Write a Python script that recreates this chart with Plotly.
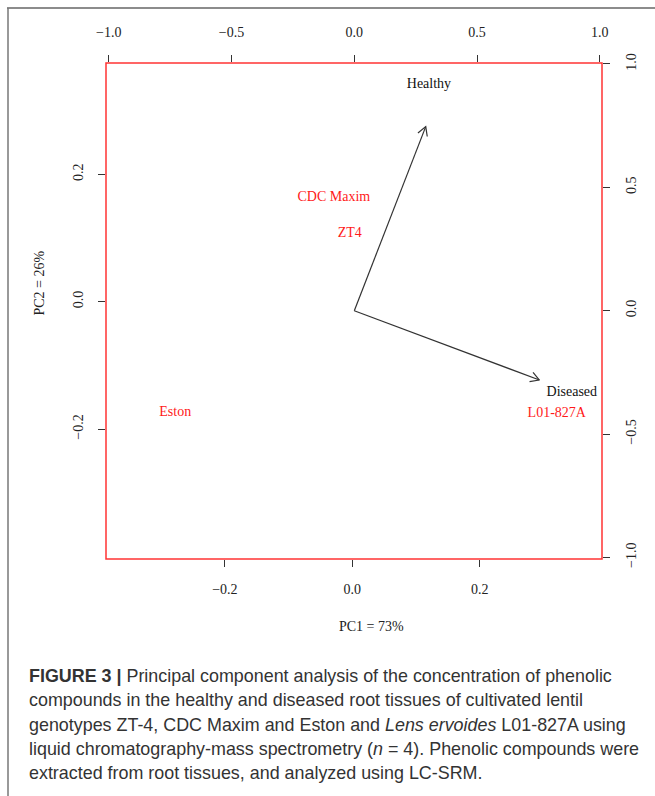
import math
import plotly.graph_objects as go

# ---------------- data ----------------
genotypes = ["CDC Maxim", "ZT4", "Eston", "L01-827A"]
pc1_scores = [-0.029, -0.004, -0.278, 0.321]
pc2_scores = [0.163, 0.107, -0.174, -0.175]

tissues = ["Healthy", "Diseased"]
arrow_pc1 = [0.291, 0.754]
arrow_pc2 = [0.746, -0.281]
label_pc1 = [0.304, 0.886]
label_pc2 = [0.918, -0.332]

score_ticks = [-0.2, 0.0, 0.2]
loading_ticks = [-1.0, -0.5, 0.0, 0.5, 1.0]

x_title = "PC1 = 73%"
y_title = "PC2 = 26%"

caption_lines = [
    "<b>FIGURE 3 |</b> Principal component analysis of the concentration of phenolic",
    "compounds in the healthy and diseased root tissues of cultivated lentil",
    "genotypes ZT-4, CDC Maxim and Eston and <i>Lens ervoides</i> L01-827A using",
    "liquid chromatography-mass spectrometry (<i>n</i> = 4). Phenolic compounds were",
    "extracted from root tissues, and analyzed using LC-SRM.",
]

# ---------------- layout geometry ----------------
W, H = 655, 796
ML, MR, MT, MB = 106, 53, 63, 237
PW = W - ML - MR
PH = H - MT - MB

xr = [-0.3867, 0.392]
yr = [-0.404, 0.3747]
x2r = [-1.0114, 1.009]
y2r = [-1.0065, 1.004]


def px_x(px):
    return (px - ML) / PW


def px_y(py):
    return (H - MB - py) / PH


def fmt(v):
    return f"{v:.1f}".replace("-", "\u2212")


serif = "Liberation Serif"
tick_col = "#222222"

fig = go.Figure()

# scores (genotypes) as red text
fig.add_trace(go.Scatter(
    x=pc1_scores, y=pc2_scores, mode="text", text=genotypes,
    textposition="middle center",
    textfont=dict(family=serif, size=14, color="#ff1a1a"),
    xaxis="x", yaxis="y", hoverinfo="skip", showlegend=False,
))

# loading arrows
kx = PW / (x2r[1] - x2r[0])
ky = PH / (y2r[1] - y2r[0])
head_len = 10.0
head_ang = math.radians(30)
ax_all, ay_all = [], []
for ax, ay in zip(arrow_pc1, arrow_pc2):
    dx, dy = ax * kx, ay * ky
    n = math.hypot(dx, dy)
    ux, uy = dx / n, dy / n
    pts = []
    for s in (1, -1):
        c, si = math.cos(s * head_ang), math.sin(s * head_ang)
        rx = ux * c - uy * si
        ry = ux * si + uy * c
        pts.append((ax - head_len * rx / kx, ay - head_len * ry / ky))
    ax_all += [0, ax, None, pts[0][0], ax, pts[1][0], None]
    ay_all += [0, ay, None, pts[0][1], ay, pts[1][1], None]

fig.add_trace(go.Scatter(
    x=ax_all, y=ay_all, mode="lines",
    line=dict(color="#333333", width=1.2),
    xaxis="x2", yaxis="y2", hoverinfo="skip", showlegend=False,
))

fig.add_trace(go.Scatter(
    x=label_pc1, y=label_pc2, mode="text", text=tissues,
    textposition="middle center",
    textfont=dict(family=serif, size=14, color="#111111"),
    xaxis="x2", yaxis="y2", hoverinfo="skip", showlegend=False,
))

axis_common = dict(
    showgrid=False, zeroline=False, showline=False,
    ticks="outside", ticklen=7, tickwidth=1, tickcolor="#333333",
    tickfont=dict(family=serif, size=14, color=tick_col),
    fixedrange=True,
)

fig.update_layout(
    width=W, height=H,
    margin=dict(l=ML, r=MR, t=MT, b=MB, pad=0),
    paper_bgcolor="white", plot_bgcolor="white",
    showlegend=False,
    xaxis=dict(range=xr, tickvals=score_ticks, ticktext=[fmt(v) for v in score_ticks],
               side="bottom", ticklabelstandoff=10, **axis_common),
    yaxis=dict(range=yr, tickvals=score_ticks, ticktext=[fmt(v) for v in score_ticks],
               side="left", tickangle=-90, ticklabelstandoff=9, **axis_common),
    xaxis2=dict(range=x2r, tickvals=loading_ticks, ticktext=[fmt(v) for v in loading_ticks],
                side="top", overlaying="x", anchor="y", ticklabelstandoff=12, **axis_common),
    yaxis2=dict(range=y2r, tickvals=loading_ticks, ticktext=[fmt(v) for v in loading_ticks],
                side="right", overlaying="y", anchor="x", tickangle=-90, ticklabelstandoff=9,
                **axis_common),
)

shapes = [
    dict(type="rect", xref="paper", yref="paper", x0=0, x1=1, y0=0, y1=1,
         line=dict(color="#ff3333", width=1.5), layer="above"),
    dict(type="line", xref="paper", yref="paper", x0=px_x(7), x1=px_x(656),
         y0=px_y(8), y1=px_y(8), line=dict(color="#666666", width=1.5)),
    dict(type="line", xref="paper", yref="paper", x0=px_x(8), x1=px_x(8),
         y0=px_y(8), y1=px_y(797), line=dict(color="#777777", width=1.5)),
]
fig.update_layout(shapes=shapes)

annotations = [
    dict(text=x_title, xref="paper", yref="paper", x=px_x(371.5), y=px_y(626),
         xanchor="center", yanchor="middle", showarrow=False,
         font=dict(family=serif, size=14, color=tick_col)),
    dict(text=y_title, xref="paper", yref="paper", x=px_x(38.5), y=px_y(283),
         xanchor="center", yanchor="middle", showarrow=False, textangle=-90,
         font=dict(family=serif, size=14, color=tick_col)),
]
line_centers = [676, 700, 724.5, 749, 773]
for txt, cy in zip(caption_lines, line_centers):
    annotations.append(dict(
        text=txt, xref="paper", yref="paper", x=px_x(27), y=px_y(cy),
        xanchor="left", yanchor="middle", showarrow=False, align="left",
        font=dict(family="Liberation Sans", size=17.9, color="#333333"),
    ))
fig.update_layout(annotations=annotations)

fig.write_html("out.html")
